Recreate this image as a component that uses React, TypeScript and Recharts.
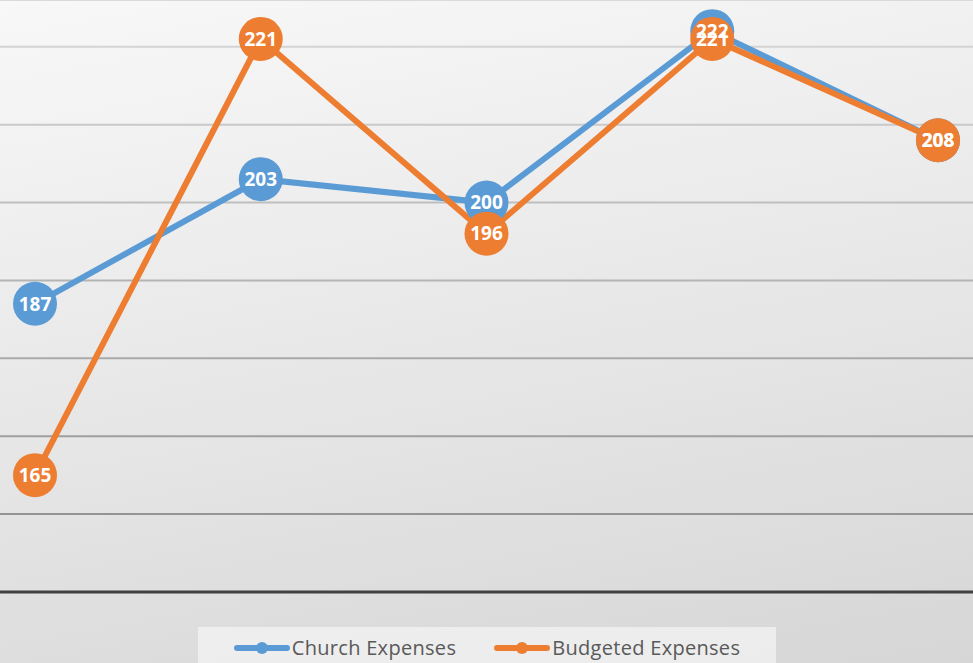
import {
  LineChart,
  Line,
  XAxis,
  YAxis,
  CartesianGrid,
  LabelList,
} from "recharts";

const periods = ["P1", "P2", "P3", "P4", "P5"];
const churchExpenses = [187, 203, 200, 222, 208];
const budgetedExpenses = [165, 221, 196, 221, 208];
const yTicks = [150, 160, 170, 180, 190, 200, 210, 220];
const baseValue = 150;

const BLUE = "#5b9bd5";
const ORANGE = "#ed7d31";
const W = 973;
const H = 663;

const data = periods.map((p, i) => ({
  period: p,
  church: churchExpenses[i],
  budgeted: budgetedExpenses[i],
}));

const labelStyle = {
  fill: "#ffffff",
  fontSize: 19,
  fontWeight: 700,
  fontFamily: "'Open Sans', sans-serif",
};

// baseline of the value axis, full width like the grid
const axisLineAt = ({ yAxis, offset }: any) => {
  const s = yAxis && yAxis.scale;
  if (typeof s === "function") return [s(baseValue)];
  if (s && typeof s.map === "function") return [s.map(baseValue)];
  if (offset) return [offset.top + offset.height];
  return [];
};

function LegendItem({ color, label }: { color: string; label: string }) {
  return (
    <div style={{ display: "flex", alignItems: "center" }}>
      <svg width={56} height={16}>
        <line x1={3} y1={8} x2={53} y2={8} stroke={color} strokeWidth={6} strokeLinecap="round" />
        <circle cx={28} cy={8} r={6} fill={color} />
      </svg>
      <span style={{ marginLeft: 2 }}>{label}</span>
    </div>
  );
}

export default function App() {
  return (
    <div
      style={{
        position: "absolute",
        left: 0,
        top: 0,
        width: W,
        height: H,
        overflow: "hidden",
        background: "linear-gradient(170deg, #f8f8f8 0%, #e6e6e6 55%, #d6d6d6 100%)",
      }}
    >
      <LineChart
        width={W}
        height={H}
        data={data}
        margin={{ top: 0, right: 35, left: 35, bottom: 71 }}
      >
        <defs>
          <linearGradient id="gridGrad" gradientUnits="userSpaceOnUse" x1="0" y1="0" x2="0" y2="592">
            <stop offset="0%" stopColor="#dadada" />
            <stop offset="100%" stopColor="#8a8a8a" />
          </linearGradient>
        </defs>
        <CartesianGrid x={0} width={W} vertical={false} stroke="url(#gridGrad)" strokeWidth={2} />
        <CartesianGrid
          x={0}
          width={W}
          vertical={false}
          stroke="#404040"
          strokeWidth={3}
          horizontalCoordinatesGenerator={axisLineAt}
        />
        <XAxis dataKey="period" hide />
        <YAxis hide domain={[150, 226]} ticks={yTicks} />
        <Line
          dataKey="church"
          stroke={BLUE}
          strokeWidth={6}
          dot={{ r: 22, fill: BLUE, stroke: BLUE, strokeWidth: 0 }}
          isAnimationActive={false}
        >
          <LabelList dataKey="church" position="center" style={labelStyle} />
        </Line>
        <Line
          dataKey="budgeted"
          stroke={ORANGE}
          strokeWidth={6}
          dot={{ r: 22, fill: ORANGE, stroke: ORANGE, strokeWidth: 0 }}
          isAnimationActive={false}
        >
          <LabelList dataKey="budgeted" position="center" style={labelStyle} />
        </Line>
      </LineChart>
      <div
        style={{
          position: "absolute",
          left: 198,
          top: 627,
          width: 578,
          height: 50,
          background: "rgba(245,245,245,0.7)",
          display: "flex",
          justifyContent: "center",
          alignItems: "flex-start",
          paddingTop: 7,
          boxSizing: "border-box",
          gap: 38,
          fontFamily: "'Open Sans', sans-serif",
          fontSize: 20,
          letterSpacing: 0.3,
          color: "#595959",
        }}
      >
        <LegendItem color={BLUE} label="Church Expenses" />
        <LegendItem color={ORANGE} label="Budgeted Expenses" />
      </div>
    </div>
  );
}
